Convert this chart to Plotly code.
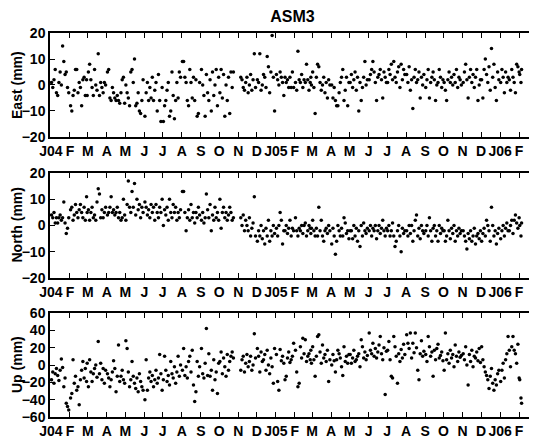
import pandas as pd
import plotly.graph_objects as go

# ---------------- data (days since 2004-01-01) ----------------
day = [
    1, 3, 5, 7, 9, 11, 13, 15, 17, 19, 21, 23, 25, 27, 29,
    32, 34, 36, 38, 40, 42, 44, 46, 48, 50, 52, 54, 56, 58, 59,
    61, 63, 65, 67, 69, 71, 73, 75, 77, 79, 81, 83, 85, 87, 89,
    92, 94, 96, 98, 100, 102, 104, 106, 108, 110, 112, 114, 116, 118, 120,
    122, 124, 126, 128, 130, 132, 134, 136, 138, 140, 142, 144, 146, 148, 150,
    153, 155, 157, 159, 161, 163, 165, 167, 169, 171, 173, 175, 177, 179, 181,
    183, 185, 187, 189, 191, 193, 195, 197, 199, 201, 203, 205, 207, 209, 211,
    214, 216, 218, 220, 222, 224, 226, 228, 230, 232, 234, 236, 238, 240, 242,
    245, 247, 249, 251, 253, 255, 257, 259, 261, 263, 265, 267, 269, 271, 273,
    275, 277, 279, 281, 283, 285, 287, 289, 291, 293, 295, 297,
    309, 311, 313, 315, 317, 319, 321, 323, 325, 327, 329, 331, 333,
    336, 338, 340, 342, 344, 346, 348, 350, 352, 354, 356, 358, 360, 362, 364,
    367, 369, 371, 373, 375, 377, 379, 381, 383, 385, 387, 389, 391, 393, 395,
    398, 400, 402, 404, 406, 408, 410, 412, 414, 416, 418, 420, 422, 423, 424,
    426, 428, 430, 432, 434, 436, 438, 440, 442, 444, 446, 448, 450, 452, 454,
    457, 459, 461, 463, 465, 467, 469, 471, 473, 475, 477, 479, 481, 483, 485,
    487, 489, 491, 493, 495, 497, 499, 501, 503, 505, 507, 509, 511, 513, 515,
    518, 520, 522, 524, 526, 528, 530, 532, 534, 536, 538, 540, 542, 544, 546,
    548, 550, 552, 554, 556, 558, 560, 562, 564, 566, 568, 570, 572, 574, 576,
    579, 581, 583, 585, 587, 589, 591, 593, 595, 597, 599, 601, 603, 605, 607,
    610, 612, 614, 616, 618, 620, 622, 624, 626, 628, 630, 632, 634, 636, 638,
    640, 642, 644, 646, 648, 650, 652, 654, 656, 658, 660, 662, 664, 666, 668,
    671, 673, 675, 677, 679, 681, 683, 685, 687, 689, 691, 693, 695, 697, 699,
    701, 703, 705, 707, 709, 711, 713, 715, 717, 719, 721, 723, 725, 727, 729,
    732, 734, 736, 738, 740, 742, 744, 746, 748, 750, 752, 754, 756, 758, 760,
    762, 763, 765, 766,
]

east = [
    1, -1, 2, 6, -3, -4, 1, 5, 0, 15, 9, 4, 5, -1, -3,
    -8, -10, -4, -2, 6, 6, -3, 1, -1, -8, 2, 3, -4, 2, -4,
    5, 8, 2, -1, -4, 6, 0, -2, 12, -4, 1, -1, -3, 1, 0,
    5, 6, -5, -6, -1, -3, -5, -6, -4, -6, -7, -3, 2, 3, -7,
    0, -3, -5, -8, 5, 6, 1, 10, -8, -7, -3, -10, -11, -6, 2,
    -12, -3, 1, -6, -1, -5, 3, -6, -2, 1, -10, 4, -6, -14, -1,
    -14, -8, -6, -2, 1, -12, -10, 5, -4, -13, -6, 1, -5, 5, 3,
    9, 9, 3, 1, -6, -8, 6, 1, -5, 3, -6, 2, -12, -11, 1,
    6, 0, -4, -12, 4, -3, -6, 2, -10, 5, -4, 0, 6, -8, 3,
    -3, 6, -5, 4, -12, 0, -6, 3, -11, 5, -1, 5,
    3, 2, -1, -2, 1, 3, -3, 0, 4, -2, 2, 12, -1,
    2, 1, 12, -2, 0, 4, 3, -1, 11, 7, -3, 5, 19, 3, -10,
    4, 2, 0, 5, 3, 1, -4, 3, 1, 2, -1, 3, -1, 5, -1,
    1, -2, 13, 2, 1, 4, -1, 2, 1, 8, 2, -2, 1, 3, 0,
    5, -1, -11, 3, 8, 7, 1, -2, 0, 3, -3, 1, -5, 2, 0,
    0, -5, -1, -6, -8, -8, -3, 1, 3, 6, -6, -2, 3, -8, 1,
    1, 4, -1, 2, 5, -2, 3, -10, 1, -6, -1, 3, 9, 0, 2,
    2, 4, 6, 9, 5, 1, -6, 3, 4, 6, 2, -5, 5, 3, 1,
    1, 6, 4, 8, 2, 9, 3, 1, 5, 7, -1, 8, 2, 6, 4,
    4, 1, 7, -2, 2, -9, 3, 6, 1, 2, 5, -5, 3, 0, 4,
    -1, 2, 6, -5, 1, 3, 5, 2, -6, 0, 1, 6, 3, -1, 2,
    1, -2, -6, 2, 5, 1, 3, 0, 4, 1, 6, -1, 3, 2, 0,
    1, 5, 8, 2, -5, 3, 6, 1, 4, -1, 3, 6, -6, 0, 2,
    2, -5, 6, 10, 4, 1, 7, -2, 14, 3, 8, -1, -6, 5, 2,
    1, 6, 3, -3, 5, 1, 3, 2, -2, 6, 3, 1, -3, 8, 7,
    5, 4, 1, 6,
]

north = [
    4, 3, 5, 1, 3, 1, 3, 4, 2, 3, 9, 1, -3, -1, 3,
    6, 7, 2, 4, 8, 5, 3, 6, 8, 5, 3, 7, 2, 11, 5,
    6, 2, 5, 7, 3, 4, 2, 9, 14, 12, 3, 6, 3, 5, 7,
    4, 5, 7, 11, 5, 6, 4, 5, 7, 3, 5, 2, 3, 10, 4,
    2, 8, 17, 7, 5, 13, 7, 16, 4, 10, 6, 8, 3, 7, 5,
    9, 7, 4, 6, 3, 8, 5, 7, 2, 8, 5, 3, 7, 5, 10,
    0, 6, 4, 7, 2, 10, 5, 3, 8, 5, 7, 2, 5, 3, 6,
    13, 13, 5, -2, 3, 6, 2, 8, 3, 5, 1, 5, 3, 7, 4,
    2, 5, 1, 3, 12, 6, 3, 8, -2, 4, 2, 7, 3, 5, 2,
    10, -1, 5, 7, 3, 5, 2, 4, 7, 5, 2, 3,
    3, 0, 4, -2, 2, 0, -2, 3, -4, -1, 1, 11, -4,
    -6, -2, -4, 0, -5, -2, -7, -1, -4, 2, -6, -2, -4, 0, -3,
    -1, -4, 0, 5, 2, -7, -2, -2, 0, -3, -1, 2, -4, -1, -2,
    3, -2, -4, -1, -2, 0, -3, 0, 1, -4, -2, 0, -1, -3, -1,
    2, -2, -4, -1, -4, 7, -2, 2, -4, -6, -2, -1, -3, 0, -2,
    -7, -1, -4, -11, -6, 0, -2, -4, -1, -4, 3, 1, -3, -2, -5,
    -2, -2, -5, 0, -4, -1, -6, -2, -8, 0, -4, 1, -2, -3, -1,
    -2, 0, -4, -1, -2, 0, -5, -2, 0, -3, -1, 2, -2, -4, -1,
    -2, 0, -4, -2, 1, -4, -8, -6, -2, 0, -4, -10, -1, -3, -2,
    -2, -4, 0, -3, 0, -6, -2, 2, 4, -4, -1, -5, 0, -2, -3,
    -2, 0, -4, 3, -2, -6, -1, 0, -4, -2, -6, 0, -3, -1, -2,
    -2, -6, -4, 2, -2, -5, -1, -3, 0, -6, -2, -4, -1, -3, -2,
    -2, -4, -6, -9, -3, -5, -2, -6, -4, -1, -7, -4, -3, -5, -2,
    -6, -3, -1, -4, 2, 0, -2, -6, 7, 0, -4, -2, -7, -3, -1,
    -5, -2, 0, -4, -1, 1, -2, -2, 0, 2, -3, 2, 4, 1, -1,
    3, 0, -4, 1,
]

up = [
    -17, -8, -21, -10, -4, -12, -18, -6, 7, -3, -25, -15, -44, -48, -52,
    -38, -33, 6, -21, -13, -29, -25, -46, -17, -6, 4, -15, -4, -19, 2,
    -25, 6, -8, -19, -10, -4, 0, -14, 27, -10, 2, -17, -4, -21, -6,
    -10, -15, -25, -17, -8, 5, -4, -31, -13, 23, -19, -13, -6, -17, -21,
    28, 19, -8, -25, -17, 4, -13, -21, -27, -15, -31, -10, -19, -25, -29,
    -40, 6, -29, -15, -8, -19, -12, -25, -17, -6, -21, -15, 12, -10, -29,
    -17, 10, -6, -19, -12, -23, 4, -10, -15, -2, -21, -8, 10, -13, 0,
    -6, 19, -12, -2, -15, 4, 10, -8, 17, -23, -42, -31, 4, -13, -2,
    19, -10, -15, 2, 42, -12, 13, -13, -6, -29, 6, -17, -8, -33, 2,
    4, 15, -10, 8, -2, -13, 12, -6, 4, 10, 15, 8,
    -6, 6, 10, -8, 2, 12, -2, 4, 10, -6, 0, 36, 8,
    19, 10, -8, 15, 4, 6, 12, -6, 17, 0, -10, 8, -2, -21, 19,
    12, -19, -29, 18, 5, 10, 2, -17, -13, 8, 15, 3, 6, 10, 25,
    17, -8, -25, -21, 21, 8, 31, 13, 29, 4, 10, 13, 6, 17, 2,
    21, 6, -13, 10, 33, 35, 15, 2, 23, 8, 12, 4, 17, -19, 6,
    0, 12, 5, -8, 6, 17, 13, 8, -2, -12, 21, 4, 10, 2, 12,
    12, 2, 8, 17, 4, 6, 10, 13, -2, 29, 21, 8, 15, 6, 11,
    37, 17, 13, 25, 10, 19, 8, 15, 23, 33, 13, 6, 20, -34, 16,
    17, 27, 6, -13, -15, 33, 21, 10, -21, 13, 4, 18, 8, 24, 12,
    35, 25, 19, 37, 8, 25, 14, 37, 20, -6, -17, 13, 28, 10, 16,
    12, 4, 33, 21, 10, 15, -13, 17, 6, 19, 24, 8, 11, 15, 5,
    -6, 37, 6, 13, 2, 17, 8, 12, -2, 23, 10, 4, 15, 9, 11,
    13, 6, 21, 0, -23, 12, 4, 17, -2, 10, 8, 15, 5, 19, 3,
    21, 6, -2, -8, -12, -17, -27, -13, -4, -21, -29, -17, -23, -10, -6,
    -19, -6, 2, -15, 6, 13, 33, 17, -2, 21, 33, 17, 13, 2, 24,
    -15, -17, -38, -44,
]

tick_dates = [
    "2004-01-01", "2004-02-01", "2004-03-01", "2004-04-01", "2004-05-01",
    "2004-06-01", "2004-07-01", "2004-08-01", "2004-09-01", "2004-10-01",
    "2004-11-01", "2004-12-01", "2005-01-01", "2005-02-01", "2005-03-01",
    "2005-04-01", "2005-05-01", "2005-06-01", "2005-07-01", "2005-08-01",
    "2005-09-01", "2005-10-01", "2005-11-01", "2005-12-01", "2006-01-01",
    "2006-02-01",
]
tick_labels = ["J04", "F", "M", "A", "M", "J", "J", "A", "S", "O", "N", "D",
               "J05", "F", "M", "A", "M", "J", "J", "A", "S", "O", "N", "D",
               "J06", "F"]

title_text = "ASM3"
panel_titles = ["East (mm)", "North (mm)", "Up (mm)"]
en_ticks = [-20, -10, 0, 10, 20]
up_ticks = [-60, -40, -20, 0, 20, 40, 60]

assert len(day) == len(east) == len(north) == len(up), (len(day), len(east), len(north), len(up))

dates = pd.Timestamp("2004-01-01") + pd.to_timedelta(day, unit="D")

# ---------------- figure ----------------
# The page body has an 8 px margin, so the figure is 8 px smaller than the window.
W, H = 529, 434

series = [east, north, up]
yranges = [[-20, 20], [-20, 20], [-60, 60]]
ytickvals = [en_ticks, en_ticks, up_ticks]
domains = [[0.7292, 1.0], [0.3620, 0.6354], [0.0, 0.2708]]

FONT = "Liberation Sans, Arial, sans-serif"
NARROW = "Liberation Sans Narrow, Arial Narrow, Liberation Sans, Arial, sans-serif"

fig = go.Figure()
for i, vals in enumerate(series):
    k = "" if i == 0 else str(i + 1)
    fig.add_trace(go.Scatter(
        x=dates, y=vals, mode="markers",
        marker=dict(color="black", size=3.5, line=dict(width=0)),
        xaxis="x" + k, yaxis="y" + k, showlegend=False, hoverinfo="skip",
    ))
    fig.layout["xaxis" + k] = dict(
        type="date", range=["2003-12-30 12:00", "2006-02-26 20:00"],
        domain=[0, 1], anchor="y" + k,
        tickmode="array", tickvals=tick_dates, ticktext=tick_labels,
        ticks="inside", ticklen=5, tickwidth=1.2, tickcolor="black",
        showline=True, linecolor="black", linewidth=1.5, mirror="ticks",
        showgrid=False, zeroline=False,
        tickfont=dict(family=NARROW, size=14, color="black", weight="bold"),
        tickangle=0,
    )
    fig.layout["yaxis" + k] = dict(
        range=yranges[i], domain=domains[i], anchor="x" + k,
        tickmode="array", tickvals=ytickvals[i],
        ticks="inside", ticklen=5, tickwidth=1.2, tickcolor="black",
        showline=True, linecolor="black", linewidth=1.5, mirror="ticks",
        showgrid=False, zeroline=False,
        tickfont=dict(family=FONT, size=14, color="black", weight="bold"),
    )
    fig.add_annotation(
        text=panel_titles[i], xref="paper", yref="paper",
        x=0, xshift=-33, y=sum(domains[i]) / 2,
        xanchor="center", yanchor="middle", textangle=-90, showarrow=False,
        font=dict(family=FONT, size=14, color="black", weight="bold"),
    )

fig.update_layout(
    width=W, height=H,
    margin=dict(l=42, r=0, t=25, b=25),
    paper_bgcolor="white", plot_bgcolor="white",
    title=dict(text=title_text, x=0.5, xref="paper", y=1 - 3 / H,
               yref="container", xanchor="center", yanchor="top",
               pad=dict(t=0, b=0),
               font=dict(family=FONT, size=16, color="black", weight="bold")),
)

fig.write_html("out.html")
